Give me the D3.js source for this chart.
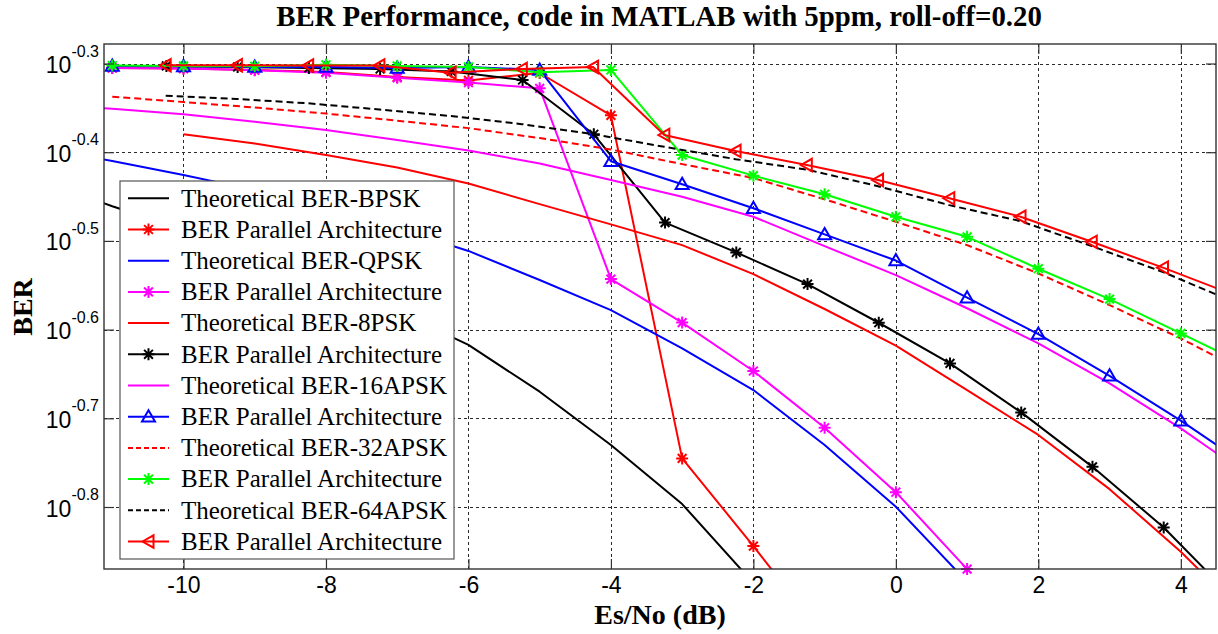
<!DOCTYPE html>
<html>
<head>
<meta charset="utf-8">
<script src="https://cdn.jsdelivr.net/npm/d3@7"></script>
<style>
  body { margin: 0; background: #fff; }
  svg { display: block; }
</style>
</head>
<body>
<svg id="chart" width="1218" height="634"></svg>
<script>
// ---- tick values ----
const xTicks = [-10, -8, -6, -4, -2, 0, 2, 4];
const yTickExp = [-0.3, -0.4, -0.5, -0.6, -0.7, -0.8];

// ---- theoretical curves: Es/No (dB) and BER ----
const bpskTheoryX = [-12, -11, -10, -9, -8, -7, -6, -5, -4, -3, -2];
const bpskTheory  = [0.370, 0.346, 0.326, 0.3065, 0.2864, 0.2636, 0.2414, 0.2138, 0.1862, 0.1597, 0.1301];

const qpskTheoryX = [-12, -11, -10, -9, -8, -7, -6, -5, -4, -3, -2, -1, 0, 1];
const qpskTheory  = [0.4024, 0.3891, 0.3752, 0.3608, 0.3453, 0.3269, 0.3081, 0.2857, 0.2642, 0.2393, 0.2147, 0.1862, 0.1586, 0.1305];

const psk8TheoryX = [-10, -9, -8, -7, -6, -5, -4, -3, -2, -1, 0, 1, 2, 3, 4, 5];
const psk8Theory  = [0.4171, 0.4073, 0.3952, 0.3826, 0.3670, 0.3479, 0.3301, 0.3128, 0.2901, 0.2650, 0.2409, 0.2147, 0.1911, 0.1660, 0.1411, 0.1176];

const apsk16TheoryX = [-12, -11, -10, -9, -8, -7, -6, -5, -4, -3, -2, -1, 0, 1, 2, 3, 4, 5];
const apsk16Theory  = [0.4519, 0.4456, 0.4393, 0.4309, 0.4217, 0.4109, 0.3999, 0.3867, 0.3704, 0.3547, 0.3367, 0.3120, 0.2893, 0.2655, 0.2424, 0.2185, 0.1944, 0.1709];

const apsk32TheoryX = [-11, -10, -9, -8, -7, -6, -5, -4, -3, -2, -1, 0, 1, 2, 3, 4, 5];
const apsk32Theory  = [0.4598, 0.4535, 0.4471, 0.4401, 0.4321, 0.4238, 0.4130, 0.4009, 0.3860, 0.3723, 0.3523, 0.3323, 0.3128, 0.2906, 0.2677, 0.2455, 0.2232];

const apsk64TheoryX = [-10.25, -9.25, -8.25, -7.25, -6.25, -5.25, -4.25, -3.25, -2.25, -1.25, -0.25, 0.75, 1.75, 2.75, 3.75, 4.75];
const apsk64Theory  = [0.4610, 0.4571, 0.4520, 0.4448, 0.4373, 0.4282, 0.4172, 0.4037, 0.3910, 0.3805, 0.3645, 0.3470, 0.3329, 0.3120, 0.2917, 0.2698];

// ---- simulated BER of the parallel architecture ----
const bpskBerX = [-11, -10, -9, -8, -7, -6, -5, -4, -3, -2, -1];
const bpskBer  = [0.4954, 0.4948, 0.4929, 0.4903, 0.4840, 0.4796, 0.4890, 0.4381, 0.1798, 0.1432, 0.1130];

const qpskBerX = [-11, -10, -9, -8, -7, -6, -5, -4, -3, -2, -1, 0, 1];
const qpskBer  = [0.4954, 0.4946, 0.4925, 0.4894, 0.4829, 0.4770, 0.4699, 0.2864, 0.2558, 0.2256, 0.1947, 0.1647, 0.1349];

const psk8BerX = [-10.24, -9.24, -8.24, -7.24, -6.24, -5.24, -4.24, -3.24, -2.24, -1.24, -0.24, 0.76, 1.76, 2.76, 3.76, 4.76];
const psk8Ber  = [0.4980, 0.4967, 0.4954, 0.4941, 0.4909, 0.4802, 0.4171, 0.3316, 0.3069, 0.2827, 0.2557, 0.2301, 0.2026, 0.1759, 0.1503, 0.1245];

const apsk16BerX = [-11, -10, -9, -8, -7, -6, -5, -4, -3, -2, -1, 0, 1, 2, 3, 4, 5];
const apsk16Ber  = [0.4980, 0.4975, 0.4967, 0.4967, 0.4954, 0.4967, 0.4929, 0.3889, 0.3664, 0.3442, 0.3216, 0.3005, 0.2729, 0.2483, 0.2228, 0.1983, 0.1750];

const apsk32BerX = [-11, -10, -9, -8, -7, -6, -5, -4, -3, -2, -1, 0, 1, 2, 3, 4, 5];
const apsk32Ber  = [0.4986, 0.4980, 0.4976, 0.4996, 0.4980, 0.4967, 0.4899, 0.4929, 0.3952, 0.3746, 0.3569, 0.3367, 0.3196, 0.2942, 0.2719, 0.2487, 0.2274];

const apsk64BerX = [-10.25, -9.25, -8.25, -7.25, -6.25, -5.25, -4.25, -3.25, -2.25, -1.25, -0.25, 0.75, 1.75, 2.75, 3.75, 4.75];
const apsk64Ber  = [0.4989, 0.4989, 0.4986, 0.4986, 0.4894, 0.4941, 0.4967, 0.4163, 0.3994, 0.3851, 0.3704, 0.3532, 0.3367, 0.3155, 0.2950, 0.2748];

const legendLabels = [
  "Theoretical BER-BPSK", "BER Parallel Architecture",
  "Theoretical BER-QPSK", "BER Parallel Architecture",
  "Theoretical BER-8PSK", "BER Parallel Architecture",
  "Theoretical BER-16APSK", "BER Parallel Architecture",
  "Theoretical BER-32APSK", "BER Parallel Architecture",
  "Theoretical BER-64APSK", "BER Parallel Architecture"
];

// ---- series in plotting order ----
const series = [
  { xs: bpskTheoryX,   ys: bpskTheory,   color: "#000000", dash: null,  marker: null },
  { xs: bpskBerX,      ys: bpskBer,      color: "#ff0000", dash: null,  marker: "star" },
  { xs: qpskTheoryX,   ys: qpskTheory,   color: "#0000ff", dash: null,  marker: null },
  { xs: qpskBerX,      ys: qpskBer,      color: "#ff00ff", dash: null,  marker: "star" },
  { xs: psk8TheoryX,   ys: psk8Theory,   color: "#ff0000", dash: null,  marker: null },
  { xs: psk8BerX,      ys: psk8Ber,      color: "#000000", dash: null,  marker: "star" },
  { xs: apsk16TheoryX, ys: apsk16Theory, color: "#ff00ff", dash: null,  marker: null },
  { xs: apsk16BerX,    ys: apsk16Ber,    color: "#0000ff", dash: null,  marker: "triUp" },
  { xs: apsk32TheoryX, ys: apsk32Theory, color: "#ff0000", dash: "7,4", marker: null },
  { xs: apsk32BerX,    ys: apsk32Ber,    color: "#00ff00", dash: null,  marker: "star" },
  { xs: apsk64TheoryX, ys: apsk64Theory, color: "#000000", dash: "7,4", marker: null },
  { xs: apsk64BerX,    ys: apsk64Ber,    color: "#ff0000", dash: null,  marker: "triLeft" }
].map((s, i) => Object.assign(s, { label: legendLabels[i] }));

// ---- layout ----
const W = 1218, H = 634;
const plot = { left: 104, top: 44, right: 1216, bottom: 569 };

const x = d3.scaleLinear().domain([-11.116, 4.494]).range([plot.left, plot.right]);
const y = d3.scaleLog().domain([Math.pow(10, -0.8699), Math.pow(10, -0.278)]).range([plot.bottom, plot.top]);
const yTicks = yTickExp.map(e => Math.pow(10, e));

const svg = d3.select("#chart");
svg.append("rect").attr("width", W).attr("height", H).attr("fill", "#fff");

svg.append("defs").append("clipPath").attr("id", "plotClip")
  .append("rect")
  .attr("x", plot.left).attr("y", plot.top)
  .attr("width", plot.right - plot.left).attr("height", plot.bottom - plot.top);

// plot background
svg.append("rect")
  .attr("x", plot.left).attr("y", plot.top)
  .attr("width", plot.right - plot.left).attr("height", plot.bottom - plot.top)
  .attr("fill", "#fff");

// ---- dotted grid ----
const grid = svg.append("g").attr("class", "grid");
grid.append("g")
  .attr("transform", `translate(0,${plot.bottom})`)
  .call(d3.axisBottom(x).tickValues(xTicks).tickSize(-(plot.bottom - plot.top)).tickFormat(""))
  .call(g => g.select(".domain").remove());
grid.append("g")
  .attr("transform", `translate(${plot.left},0)`)
  .call(d3.axisLeft(y).tickValues(yTicks).tickSize(-(plot.right - plot.left)).tickFormat(""))
  .call(g => g.select(".domain").remove());
grid.selectAll("line")
  .attr("stroke", "#2a2a2a").attr("stroke-width", 1).attr("stroke-dasharray", "3,3")
  .attr("shape-rendering", "crispEdges");

// ---- marker shapes ----
function markerPath(kind) {
  if (kind === "star") {
    const r = 6, d = 4.4;
    return `M${-r},0L${r},0M0,${-r}L0,${r}M${-d},${-d}L${d},${d}M${-d},${d}L${d},${-d}`;
  }
  if (kind === "triUp") return "M0,-6.5L6.5,4.8L-6.5,4.8Z";
  if (kind === "triLeft") return "M-6,0L5,-6.2L5,6.2Z";
  return "";
}

// ---- curves ----
const line = d3.line().x(d => x(d[0])).y(d => y(d[1]));
const curves = svg.append("g").attr("class", "curves");

series.forEach(s => {
  const pts = s.xs.map((v, i) => [v, s.ys[i]]);
  curves.append("path")
    .attr("clip-path", "url(#plotClip)")
    .attr("d", line(pts))
    .attr("fill", "none")
    .attr("stroke", s.color)
    .attr("stroke-width", 2)
    .attr("stroke-linejoin", "round")
    .attr("stroke-dasharray", s.dash);
  if (s.marker) {
    const inside = pts.filter(p => {
      const px = x(p[0]), py = y(p[1]);
      return px >= plot.left - 0.5 && px <= plot.right + 0.5 && py >= plot.top - 0.5 && py <= plot.bottom + 1;
    });
    curves.append("g").selectAll("path").data(inside).join("path")
      .attr("transform", p => `translate(${x(p[0])},${y(p[1])})`)
      .attr("d", markerPath(s.marker))
      .attr("fill", "none")
      .attr("stroke", s.color)
      .attr("stroke-width", 2)
      .attr("stroke-linejoin", "miter");
  }
});

// ---- axes with inward ticks ----
const tickFont = "'Liberation Sans', Arial, sans-serif";
const hyphen = v => String(v).replace("\u2212", "-");

const xAxis = svg.append("g")
  .attr("transform", `translate(0,${plot.bottom})`)
  .call(d3.axisBottom(x).tickValues(xTicks).tickSize(-10).tickPadding(0).tickFormat(v => hyphen(v)));
xAxis.selectAll("text")
  .attr("y", 23.5).attr("dy", null)
  .attr("font-family", tickFont).attr("font-size", 23).attr("fill", "#000");

const yAxis = svg.append("g")
  .attr("transform", `translate(${plot.left},0)`)
  .call(d3.axisLeft(y).tickValues(yTicks).tickSize(-10).tickPadding(5).tickFormat(""));
yAxis.selectAll(".tick text")
  .attr("dy", null).attr("y", 9)
  .attr("font-family", tickFont).attr("fill", "#000")
  .each(function(d, i) {
    const t = d3.select(this);
    t.append("tspan").attr("font-size", 23).text("10");
    t.append("tspan").attr("font-size", 16).attr("dy", -16.5).text(yTickExp[i].toFixed(1));
  });

svg.append("g")
  .attr("transform", `translate(0,${plot.top})`)
  .call(d3.axisTop(x).tickValues(xTicks).tickSize(-10).tickFormat(""));
svg.append("g")
  .attr("transform", `translate(${plot.right},0)`)
  .call(d3.axisRight(y).tickValues(yTicks).tickSize(-10).tickFormat(""));

svg.selectAll(".domain").attr("stroke", "none");
svg.selectAll(".tick line").filter(function() { return !this.closest(".grid"); })
  .attr("stroke", "#333").attr("stroke-width", 1.2);

// axes box
svg.append("rect")
  .attr("x", plot.left).attr("y", plot.top)
  .attr("width", plot.right - plot.left).attr("height", plot.bottom - plot.top)
  .attr("fill", "none").attr("stroke", "#333").attr("stroke-width", 1.4);

// ---- titles ----
const serif = "'Liberation Serif', 'Times New Roman', serif";
svg.append("text")
  .attr("x", 659).attr("y", 26).attr("text-anchor", "middle")
  .attr("font-family", serif).attr("font-weight", "bold").attr("font-size", 28.8)
  .text("BER Performance, code in MATLAB with 5ppm, roll-off=0.20");
svg.append("text")
  .attr("x", 660).attr("y", 624).attr("text-anchor", "middle")
  .attr("font-family", serif).attr("font-weight", "bold").attr("font-size", 28)
  .text("Es/No (dB)");
svg.append("text")
  .attr("transform", "translate(31.5,307) rotate(-90)").attr("text-anchor", "middle")
  .attr("font-family", serif).attr("font-weight", "bold").attr("font-size", 28)
  .text("BER");

// ---- legend ----
const legend = svg.append("g").attr("class", "legend");
legend.append("rect")
  .attr("x", 120).attr("y", 181).attr("width", 334).attr("height", 378)
  .attr("fill", "#fff").attr("stroke", "#555").attr("stroke-width", 1.2);

series.forEach((s, i) => {
  const cy = 198.3 + i * 31.2;
  const row = legend.append("g");
  row.append("line")
    .attr("x1", 128).attr("x2", 169).attr("y1", cy).attr("y2", cy)
    .attr("stroke", s.color).attr("stroke-width", 2)
    .attr("stroke-dasharray", s.dash ? "5,3" : null);
  if (s.marker) {
    row.append("path")
      .attr("transform", `translate(148.5,${cy})`)
      .attr("d", markerPath(s.marker))
      .attr("fill", "none").attr("stroke", s.color).attr("stroke-width", 2);
  }
  row.append("text")
    .attr("x", 181).attr("y", cy + 8.3)
    .attr("font-family", serif).attr("font-size", 25).attr("fill", "#000")
    .text(s.label);
});
</script>
</body>
</html>
